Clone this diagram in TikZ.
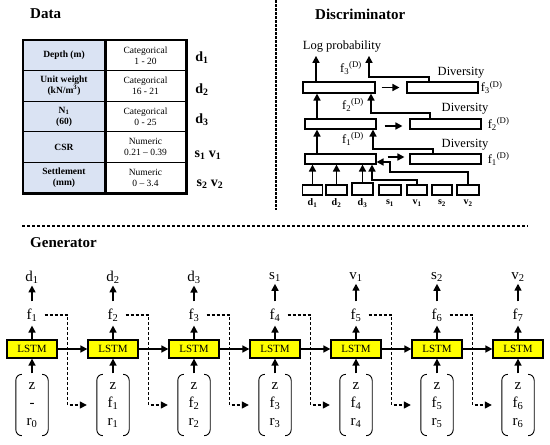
\documentclass[tikz,border=0pt]{standalone}
\usepackage{fontspec}
\setmainfont{Liberation Serif}[BoldFont={Liberation Serif Bold},ItalicFont={Liberation Serif Italic}]
\usetikzlibrary{arrows.meta,calc}
\definecolor{tblue}{RGB}{218,227,243}
\definecolor{lyel}{RGB}{255,255,0}
\newcommand\fsz[2]{\fontsize{#1}{#2}\selectfont}
\begin{document}
\begin{tikzpicture}[x=1pt,y=-1pt,
  arr/.style={-{Triangle[length=7pt,width=7pt]}, line width=1.6pt},
  darr/.style={-{Triangle[length=7pt,width=7pt]}, line width=1.3pt, dash pattern=on 3pt off 2pt},
  ttl/.style={font=\fsz{15}{17}\bfseries, inner sep=0},
  lcell/.style={draw, fill=tblue, line width=1.2pt, minimum width=82pt, minimum height=30.6pt, inner sep=0, align=center, font=\fsz{9.5}{11}\bfseries},
  rcell/.style={draw, fill=white, line width=1.2pt, minimum width=81pt, minimum height=30.6pt, inner sep=0, align=center, font=\fsz{9.5}{11}},
  tlab/.style={font=\fsz{14}{16}\bfseries, inner sep=0},
  dbox/.style={draw, line width=1.1pt, minimum height=10pt, inner sep=0},
  dtxt/.style={font=\fsz{12.5}{14}, inner sep=0},
  dlab/.style={font=\fsz{10}{12}\bfseries, inner sep=0},
  gtxt/.style={font=\fsz{15}{18}, inner sep=0},
  lstm/.style={draw, fill=lyel, line width=1.3pt, minimum width=50pt, minimum height=18pt, inner sep=0, font=\fsz{11}{12}},
  vec/.style={minimum width=32pt, minimum height=61pt, inner sep=0, align=center, font=\fsz{15}{18}},
  paren/.style={line width=0.9pt, rounded corners=6pt}
]
\useasboundingbox (0,0) rectangle (550,445);

% ---------------- Data ----------------
\node[ttl, anchor=west] (tdata) at (30,14) {Data};
\node[lcell] (t1l) at (64,55.3) {Depth (m)};
\node[rcell] (t1r) at (145.5,55.3) {Categorical\\1 - 20};
\node[lcell] (t2l) at (64,85.9) {Unit weight\\(kN/m\textsuperscript{3})};
\node[rcell] (t2r) at (145.5,85.9) {Categorical\\16 - 21};
\node[lcell] (t3l) at (64,116.5) {N\textsubscript{1}\\(60)};
\node[rcell] (t3r) at (145.5,116.5) {Categorical\\0 - 25};
\node[lcell] (t4l) at (64,147.1) {CSR};
\node[rcell] (t4r) at (145.5,147.1) {Numeric\\0.21 – 0.39};
\node[lcell] (t5l) at (64,177.7) {Settlement\\(mm)};
\node[rcell] (t5r) at (145.5,177.7) {Numeric\\0 – 3.4};
\draw[line width=2.4pt] (t1l.north east) -- (t5l.south east);
\draw[line width=1.8pt] (t1l.north west) rectangle (t5r.south east);
\node[tlab] (d1t) at (202,58) {d\textsubscript{1}};
\node[tlab] (d2t) at (202,90) {d\textsubscript{2}};
\node[tlab] (d3t) at (202,120) {d\textsubscript{3}};
\node[tlab] (s1t) at (208,155) {s\textsubscript{1} v\textsubscript{1}};
\node[tlab] (s2t) at (210,184) {s\textsubscript{2} v\textsubscript{2}};

% ---------------- dividers ----------------
\draw[line width=1.5pt, dash pattern=on 2.5pt off 1.5pt] (276,0) -- (276,210);
\draw[line width=1.3pt, dash pattern=on 3pt off 2pt] (22,226) -- (528,226);

% ---------------- Discriminator ----------------
\node[ttl, anchor=west] (tdisc) at (315,14) {Discriminator};
\node[dbox, minimum width=72pt, minimum height=11pt] (L3) at (339,87.5) {};
\node[dbox, minimum width=71pt, minimum height=11pt] (R3) at (442.5,87.5) {};
\node[dbox, minimum width=71pt] (L2) at (340.5,124) {};
\node[dbox, minimum width=71pt] (R2) at (445.5,124) {};
\node[dbox, minimum width=71pt] (L1) at (340.5,159) {};
\node[dbox, minimum width=71pt] (R1) at (445.5,159) {};

\node[dbox, minimum width=20pt] (in1) at (312.5,190) {};
\node[dbox, minimum width=21pt] (in2) at (336.5,190) {};
\node[dbox, minimum width=21pt, minimum height=12pt] (in3) at (362.5,189) {};
\node[dbox, minimum width=22pt] (in4) at (390,190) {};
\node[dbox, minimum width=20pt] (in5) at (417,190) {};
\node[dbox, minimum width=20pt] (in6) at (442,190) {};
\node[dbox, minimum width=22pt] (in7) at (468,190) {};
\node[dlab] (lb1) at (312.5,203) {d\textsubscript{1}};
\node[dlab] (lb2) at (336.5,203) {d\textsubscript{2}};
\node[dlab] (lb3) at (362.5,203) {d\textsubscript{3}};
\node[dlab] (lb4) at (390,203) {s\textsubscript{1}};
\node[dlab] (lb5) at (417,203) {v\textsubscript{1}};
\node[dlab] (lb6) at (442,203) {s\textsubscript{2}};
\node[dlab] (lb7) at (468,203) {v\textsubscript{2}};

\draw[arr] (in1.north) -- (in1.north |- L1.south);
\draw[arr] (in2.north) -- (in2.north |- L1.south);
\draw[arr] (in3.north) -- (in3.north |- L1.south);
\coordinate (j1) at (372,180);
\draw[arr] (in5.north) |- (j1) -- (j1 |- L1.south);
\coordinate (j2) at (390,172);
\draw[arr] (in7.north) |- (j2) |- ([yshift=-3pt]L1.east);

\draw[arr] ([xshift=-23.5pt]L1.north) -- ([xshift=-23.5pt]L2.south);
\draw[arr] ([xshift=-23.5pt]L2.north) -- ([xshift=-23.5pt]L2.north |- L3.south);

\node[dtxt] (logp) at (342,47) {Log probability};
\draw[arr, shorten >=3pt] ([xshift=-23pt]L3.north) -- ([xshift=-23pt]L3.north |- logp.south);

\coordinate (k1) at (373,149);
\draw[arr] ([xshift=-12.5pt]R1.north) |- (k1) -- (k1 |- L2.south);
\coordinate (k2) at (371,113);
\draw[arr] ([xshift=-15.5pt]R2.north) |- (k2) -- (k2 |- L3.south);
\coordinate (k3) at (369,77);
\draw[arr, shorten >=3pt] ([xshift=-13.5pt]R3.north) |- (k3) -- (k3 |- logp.south);

\node[dtxt] (fd1) at (353,139) {f\textsubscript{1}\textsuperscript{(D)}};
\node[dtxt] (fd2) at (353,105) {f\textsubscript{2}\textsuperscript{(D)}};
\node[dtxt] (fd3) at (351,68) {f\textsubscript{3}\textsuperscript{(D)}};
\node[dtxt] (dv3) at (461,73) {Diversity};
\node[dtxt] (dv2) at (465,109) {Diversity};
\node[dtxt] (dv1) at (465,145) {Diversity};
\node[dtxt, anchor=west] (rf3) at ([xshift=2pt]R3.east) {f\textsubscript{3}\textsuperscript{(D)}};
\node[dtxt, anchor=west] (rf2) at ([xshift=6pt]R2.east) {f\textsubscript{2}\textsuperscript{(D)}};
\node[dtxt, anchor=west] (rf1) at ([xshift=6pt]R1.east) {f\textsubscript{1}\textsuperscript{(D)}};

\draw[arr, shorten <=6pt, shorten >=7pt] (L3.east) -- (R3.west);
\draw[arr, shorten <=8pt, shorten >=7pt] ([yshift=-2pt]L2.east) -- ([yshift=-2pt]R2.west);
\draw[arr, shorten <=11pt, shorten >=5pt] ([yshift=2pt]L1.east) -- ([yshift=2pt]R1.west);

% ---------------- Generator ----------------
\node[ttl, anchor=west] (tgen) at (30,243) {Generator};
\foreach \i/\o/\m in {0/d/1, 1/d/2, 2/d/3, 3/s/1, 4/v/1, 5/s/2, 6/v/2} {
  \pgfmathsetmacro\cx{32+81*\i}
  \pgfmathtruncatemacro\j{\i+1}
  \node[gtxt] (gout\i) at (\cx,277) {\o\textsubscript{\m}};
  \node[gtxt] (gf\i) at (\cx,315) {f\textsubscript{\j}};
  \node[lstm] (gL\i) at (\cx,349) {LSTM};
  \ifnum\i=0
    \node[vec] (gv\i) at (\cx,405) {z\\-\\r\textsubscript{0}};
  \else
    \node[vec] (gv\i) at (\cx,405) {z\\f\textsubscript{\i}\\r\textsubscript{\i}};
  \fi
  \draw[paren] ([xshift=6pt]gv\i.north west) -- (gv\i.north west) -- (gv\i.south west) -- ([xshift=6pt]gv\i.south west);
  \draw[paren] ([xshift=-6pt]gv\i.north east) -- (gv\i.north east) -- (gv\i.south east) -- ([xshift=-6pt]gv\i.south east);
  \draw[arr, shorten <=7pt, shorten >=2pt] (gf\i.north) -- (gout\i.south);
  \draw[arr, shorten >=4pt] (gL\i.north) -- (gf\i.south);
  \draw[arr, shorten <=1pt] (gv\i.north) -- (gL\i.south);
}
\foreach \i in {0,...,5} {
  \pgfmathtruncatemacro\j{\i+1}
  \draw[arr] (gL\i.east) -- (gL\j.west);
  \draw[darr] ([xshift=7pt]gf\i.east) -- ++(23,0) |- ([xshift=-10pt]gv\j.west);
}
\end{tikzpicture}
\end{document}
